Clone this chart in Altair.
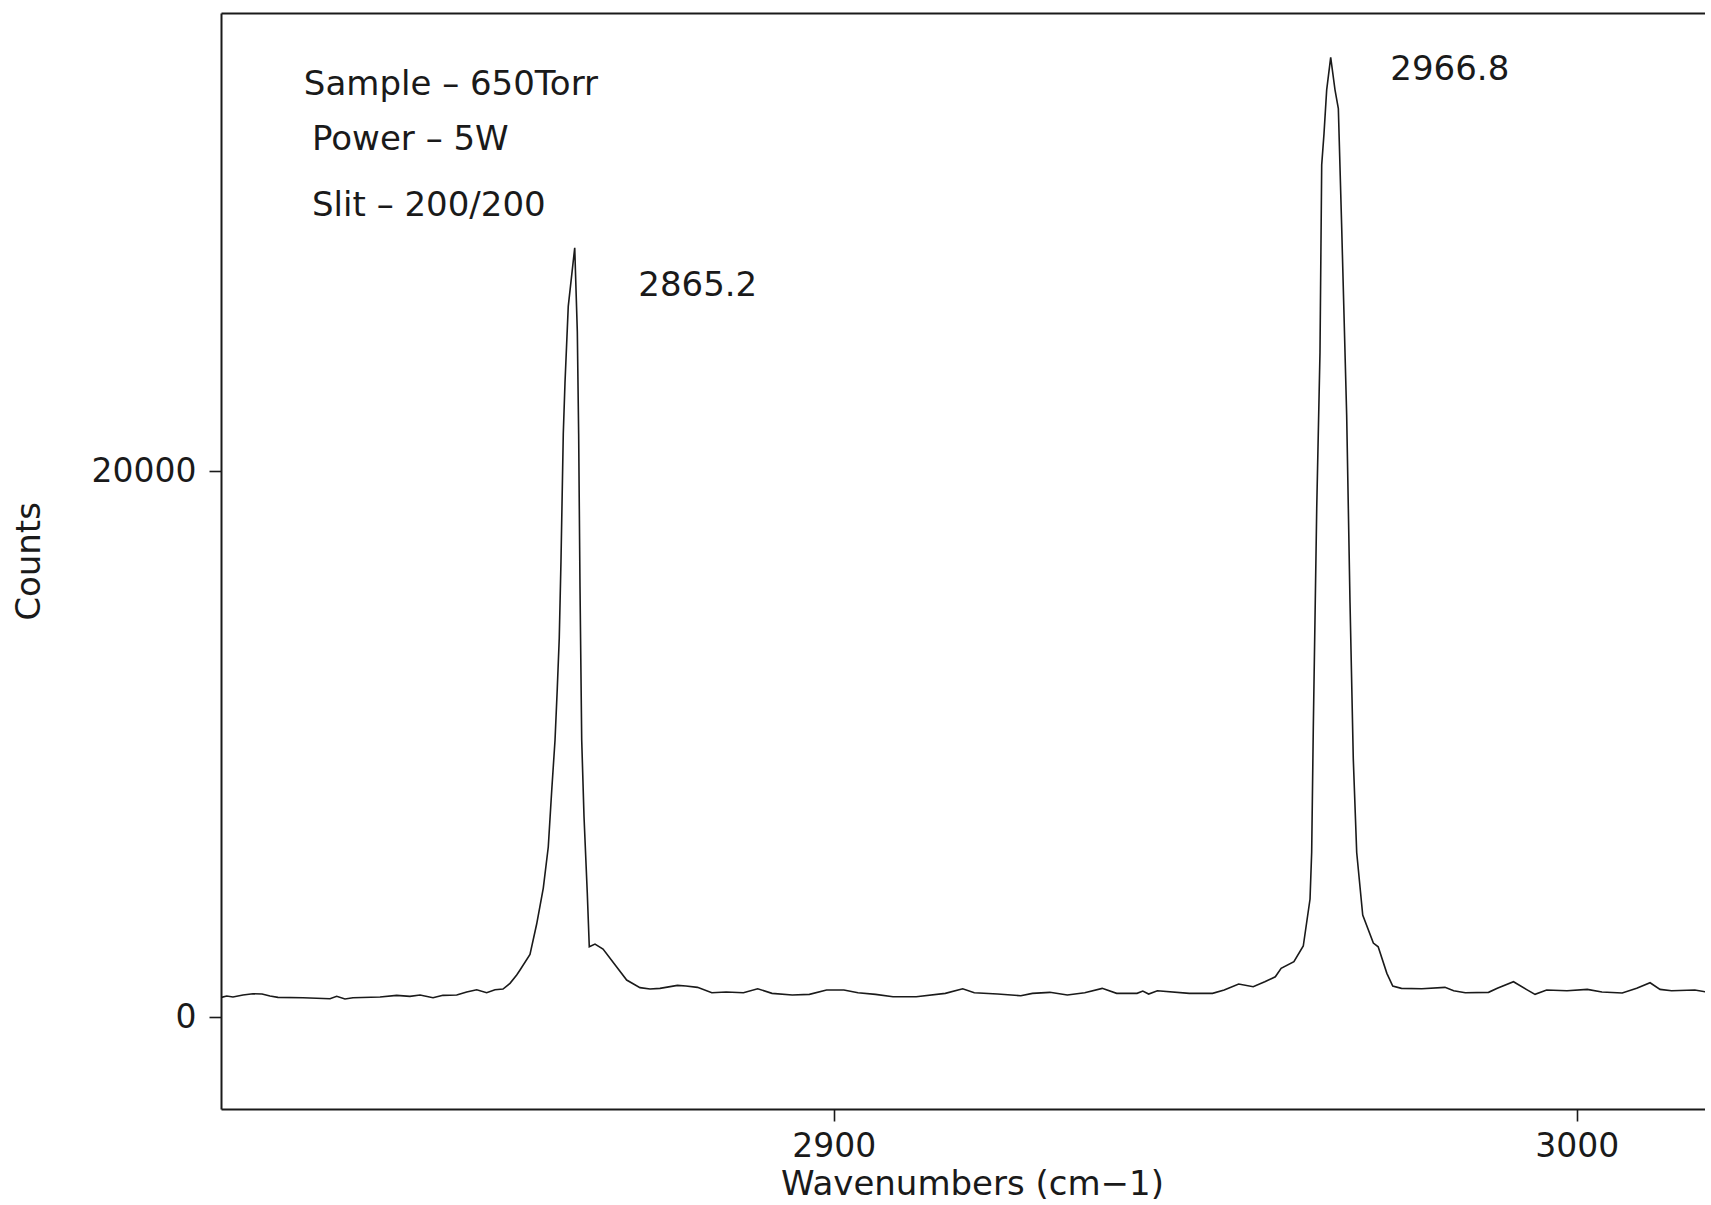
import altair as alt
import pandas as pd

# Raman spectrum
wavenumber = [
    2817.61, 2818.32, 2819.16, 2820.51, 2821.85, 2823.07, 2824.14, 2825.22, 2828.58, 2832.22,
    2833.12, 2834.23, 2835.31, 2838.95, 2841.19, 2842.98, 2844.33, 2846.08, 2847.42, 2849.27,
    2850.61, 2851.96, 2853.30, 2854.42, 2855.50, 2856.44, 2857.34, 2857.79, 2859.13, 2860.03,
    2860.92, 2861.59, 2862.05, 2862.50, 2862.80, 2863.07, 2863.30, 2863.61, 2863.84, 2864.28,
    2865.15, 2865.50, 2865.68, 2865.86, 2866.09, 2866.40, 2866.84, 2867.11, 2867.88, 2868.96,
    2870.57, 2872.14, 2873.93, 2875.28, 2876.62, 2878.97, 2880.12, 2881.67, 2883.60, 2885.53,
    2887.85, 2889.77, 2891.70, 2894.42, 2896.73, 2899.04, 2901.37, 2903.27, 2905.63, 2907.98,
    2911.10, 2915.02, 2917.36, 2918.92, 2922.06, 2925.18, 2926.74, 2929.09, 2931.44, 2933.78,
    2936.13, 2938.08, 2940.82, 2941.60, 2942.38, 2943.56, 2947.85, 2950.98, 2952.55, 2954.50,
    2956.45, 2958.01, 2959.43, 2960.21, 2961.93, 2963.19, 2964.10, 2964.32, 2964.54, 2965.00,
    2965.44, 2965.67, 2965.98, 2966.34, 2966.88, 2967.46, 2967.91, 2968.36, 2969.03, 2969.48,
    2969.92, 2970.38, 2971.19, 2972.62, 2973.27, 2974.44, 2975.23, 2976.40, 2979.13, 2982.26,
    2983.43, 2984.99, 2988.12, 2989.30, 2991.48, 2993.20, 2994.38, 2995.94, 2998.68, 3001.41,
    3003.38, 3006.11, 3008.06, 3009.86, 3011.20, 3012.76, 3015.88, 3018.06,
]
counts = [
    722, 770, 733, 806, 854, 843, 770, 722, 708, 671,
    759, 660, 708, 733, 796, 759, 806, 708, 796, 806,
    917, 1001, 891, 1001, 1026, 1235, 1540, 1723, 2291, 3409,
    4729, 6232, 8285, 10155, 12024, 13894, 16695, 21373, 23242, 26047,
    28195, 25112, 21373, 15764, 10155, 7343, 4546, 2574, 2676, 2493,
    1917, 1356, 1078, 1026, 1052, 1162, 1136, 1089, 891, 917,
    891, 1037, 869, 806, 832, 990, 990, 891, 832, 744,
    744, 869, 1037, 891, 843, 781, 869, 906, 806, 891,
    1052, 869, 869, 953, 843, 964, 869, 869, 990, 1210,
    1111, 1294, 1477, 1785, 2027, 2603, 4326, 6031, 10613, 18631,
    24361, 31234, 32378, 33984, 35175, 33984, 33295, 28943, 22069, 15196,
    9466, 6031, 3739, 2713, 2577, 1602, 1136, 1052, 1037, 1089,
    964, 891, 906, 1052, 1294, 1015, 832, 990, 964, 1015,
    917, 880, 1052, 1257, 1015, 964, 990, 891,
]

# annotations (text, wavenumber, counts)
ann_text = ["Sample \u2013 650Torr", "Power \u2013 5W", "Slit \u2013 200/200", "2865.2", "2966.8"]
ann_x = [2828.7, 2829.8, 2829.8, 2873.7, 2974.9]
ann_y = [34170, 32150, 29730, 26800, 34720]

x_ticks = [2900, 3000]
y_ticks = [0, 20000]

spec = pd.DataFrame({"w": wavenumber, "c": counts})
ann = pd.DataFrame({"t": ann_text, "w": ann_x, "c": ann_y})

FONT = "DejaVu Sans"
INK = "#1a1a1a"

xscale = alt.Scale(domain=[2817.55, 3017.25], nice=False, zero=False)
yscale = alt.Scale(domain=[-3370, 36800], nice=False, zero=False)

line = alt.Chart(spec).mark_line(color=INK, strokeWidth=1.6, clip=True).encode(
    x=alt.X("w:Q", scale=xscale,
            axis=alt.Axis(values=x_ticks, title="Wavenumbers (cm\u22121)", format="d",
                          titleX=751, titleY=75, titleBaseline="middle",
                          labelPadding=9)),
    y=alt.Y("c:Q", scale=yscale,
            axis=alt.Axis(values=y_ticks, title="Counts", format="d",
                          titleX=-192, titleY=548, titleBaseline="middle",
                          labelPadding=13)),
)

text = alt.Chart(ann).mark_text(
    align="left", baseline="middle", font=FONT, fontSize=34, color=INK, clip=True
).encode(
    x=alt.X("w:Q", scale=xscale,
            axis=alt.Axis(orient="top", labels=False, ticks=False, title=None,
                          values=x_ticks, domainWidth=2)),
    y=alt.Y("c:Q", scale=yscale, axis=None),
    text="t:N",
)

chart = (
    alt.layer(line, text)
    .resolve_axis(x="independent", y="independent")
    .properties(
        width=1484,
        height=1096,
        autosize=alt.AutoSizeParams(type="none"),
        padding={"left": 221, "top": 13, "right": 0, "bottom": 92},
        background="white",
    )
    .configure_view(stroke=None)
    .configure_axis(
        grid=False,
        domainColor=INK,
        domainWidth=2,
        tickColor=INK,
        tickWidth=1.6,
        tickSize=12,
        labelFont=FONT,
        labelFontSize=33,
        labelColor=INK,
        titleFont=FONT,
        titleFontSize=34,
        titleFontWeight="normal",
        titleColor=INK,
    )
)

chart.save("out.html", embed_options={"renderer": "svg", "actions": False})
